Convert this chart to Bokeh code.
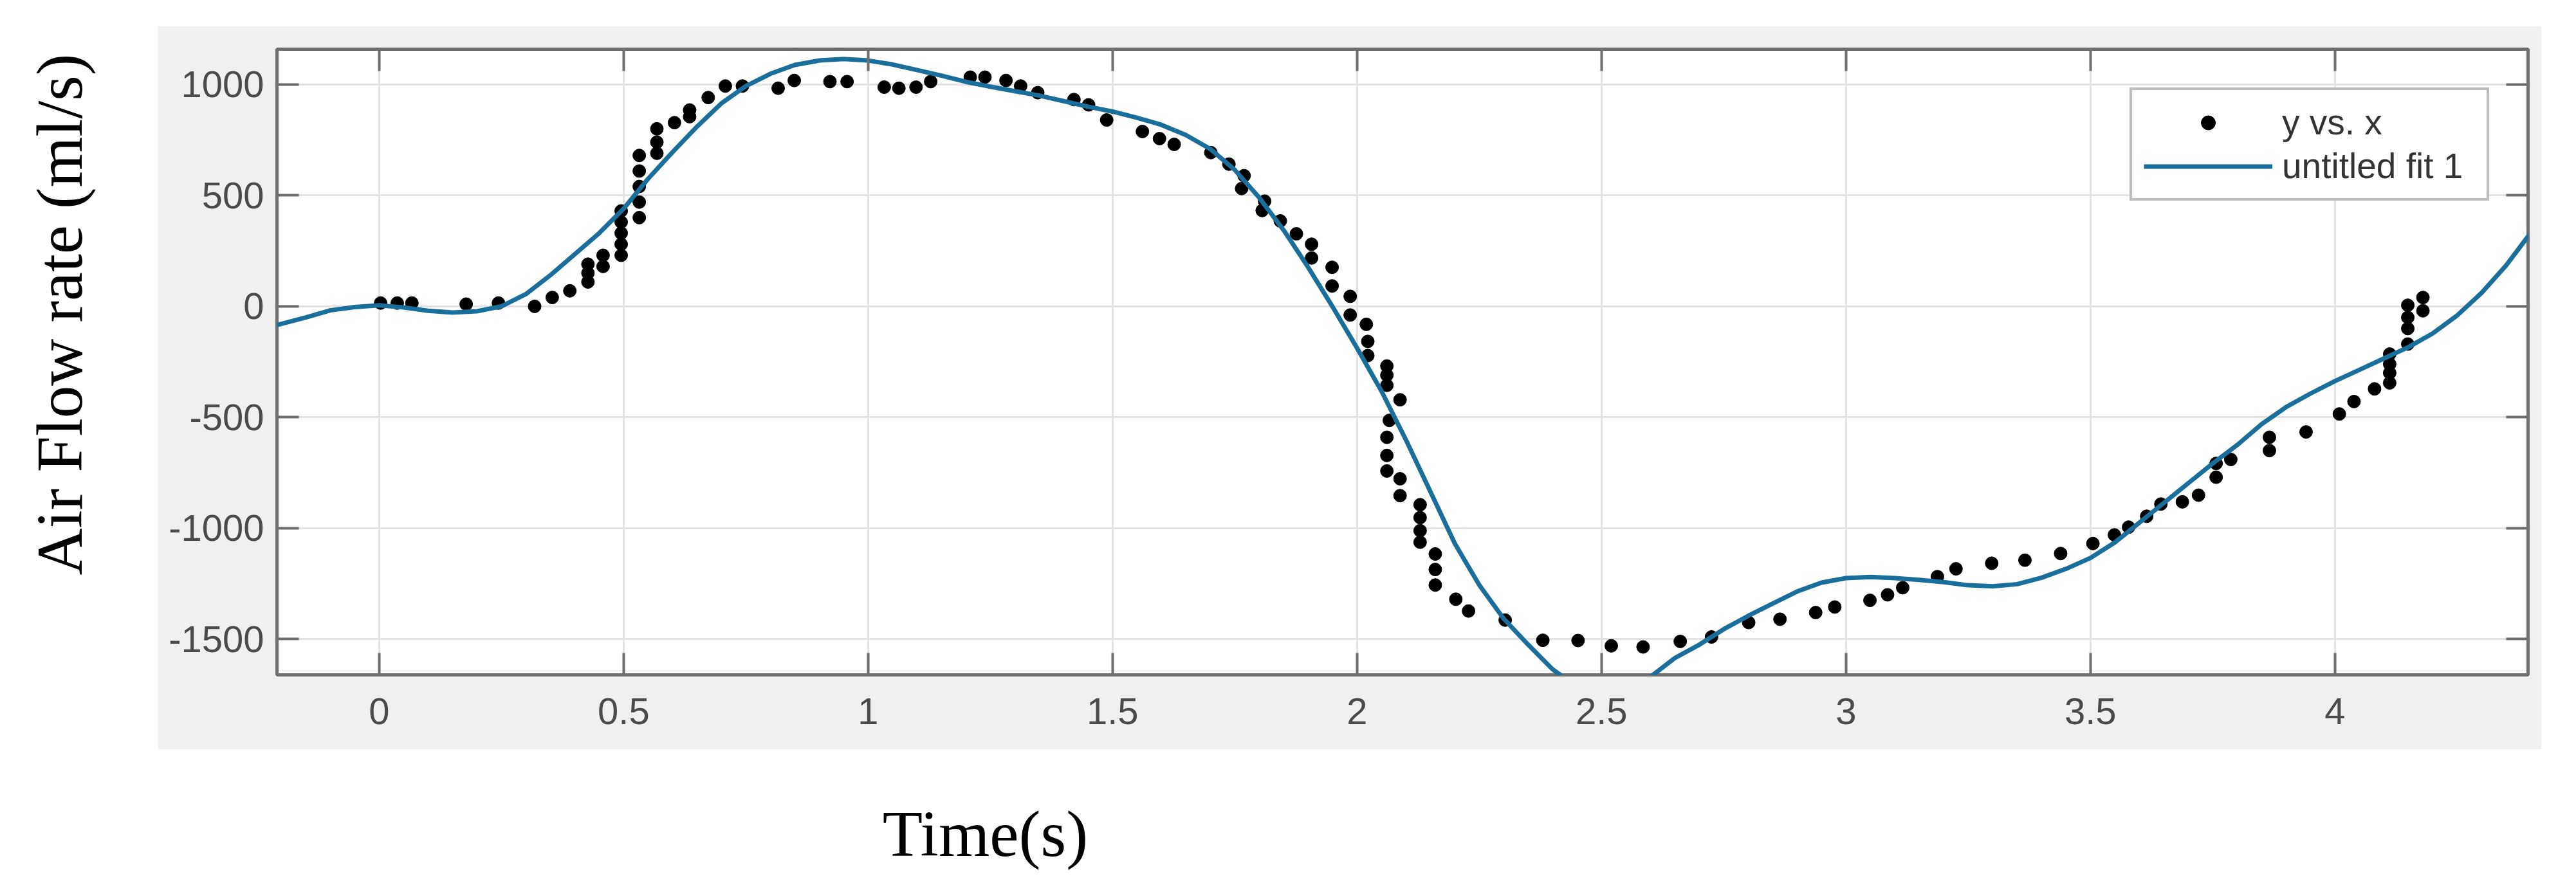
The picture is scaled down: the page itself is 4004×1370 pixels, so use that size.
import numpy as np
from bokeh.plotting import figure
from bokeh.models import Range1d, FixedTicker, LinearAxis, Legend, LegendItem, Spacer
from bokeh.layouts import column, row
from bokeh.core.properties import value
from bokeh.embed import file_html
from bokeh.resources import INLINE

# ---------------- data ----------------
data_x = [0.003, 0.037, 0.067, 0.178, 0.244, 0.318, 0.354, 0.390,
          0.427, 0.427, 0.427, 0.458, 0.458,
          0.495, 0.495, 0.495, 0.495, 0.495,
          0.532, 0.532, 0.532, 0.532, 0.532,
          0.568, 0.568, 0.568, 0.604, 0.635, 0.635, 0.673,
          0.708, 0.743, 0.816, 0.849, 0.922, 0.957, 1.033, 1.063, 1.098, 1.128,
          1.209, 1.239, 1.282, 1.312, 1.347, 1.421, 1.451, 1.488,
          1.561, 1.596, 1.626, 1.701, 1.738, 1.769, 1.764, 1.811, 1.806,
          1.843, 1.876, 1.907, 1.907, 1.949, 1.949, 1.986, 1.986,
          2.019, 2.022, 2.022, 2.061, 2.061, 2.061, 2.088,
          2.066, 2.061, 2.061, 2.061, 2.088, 2.088,
          2.129, 2.129, 2.129, 2.129, 2.160, 2.160, 2.160,
          2.202, 2.228, 2.303, 2.380, 2.452, 2.520, 2.585, 2.661, 2.725,
          2.801, 2.865, 2.938, 2.977, 3.049, 3.085, 3.116,
          3.187, 3.225, 3.298, 3.366, 3.439, 3.505, 3.549, 3.578, 3.615,
          3.644, 3.688, 3.721, 3.757, 3.757, 3.787,
          3.866, 3.866, 3.941, 4.009, 4.039, 4.081,
          4.112, 4.112, 4.112, 4.112, 4.149, 4.149, 4.149, 4.149,
          4.180, 4.180]
data_y = [15, 15, 15, 10, 15, 0, 40, 70,
          110, 150, 190, 180, 230,
          230, 280, 330, 380, 430,
          400, 470, 540, 610, 680,
          690, 740, 800, 828, 855, 885, 941,
          993, 993, 983, 1018, 1013, 1013, 988, 983, 988, 1013,
          1033, 1033, 1018, 993, 963, 932, 908, 840,
          788, 756, 730, 693, 641, 589, 531, 474, 432,
          385, 327, 280, 218, 176, 92, 45, -39,
          -81, -158, -222, -269, -310, -356, -421,
          -514, -590, -672, -742, -777, -853,
          -894, -952, -1011, -1063, -1116, -1186, -1256,
          -1320, -1373, -1414, -1505, -1506, -1530, -1535, -1510, -1490,
          -1425, -1410, -1380, -1355, -1325, -1300, -1268,
          -1218, -1183, -1158, -1144, -1114, -1069, -1030, -995, -946,
          -891, -881, -851, -770, -708, -690,
          -590, -650, -566, -485, -429, -372,
          -215, -260, -300, -345, 5, -50, -100, -170,
          40, -20]

fit_x = [-0.21, -0.15, -0.1, -0.05, 0.0, 0.05, 0.1, 0.15, 0.2, 0.25, 0.3, 0.35,
         0.4, 0.45, 0.5, 0.55, 0.6, 0.65, 0.7, 0.75, 0.8, 0.85, 0.9, 0.95,
         1.0, 1.05, 1.1, 1.15, 1.2, 1.25, 1.3, 1.35, 1.4, 1.45, 1.5, 1.55,
         1.6, 1.65, 1.7, 1.75, 1.8, 1.85, 1.9, 1.95, 2.0, 2.05, 2.1, 2.15,
         2.2, 2.25, 2.3, 2.35, 2.4, 2.45, 2.5, 2.55, 2.6, 2.65, 2.7, 2.75,
         2.8, 2.85, 2.9, 2.95, 3.0, 3.05, 3.1, 3.15, 3.2, 3.25, 3.3, 3.35,
         3.4, 3.45, 3.5, 3.55, 3.6, 3.65, 3.7, 3.75, 3.8, 3.85, 3.9, 3.95,
         4.0, 4.05, 4.1, 4.15, 4.2, 4.25, 4.3, 4.35, 4.4]
fit_y = [-85, -50, -18, -3, 5, -5, -20, -28, -22, 0, 55, 140,
         235, 330, 440, 575, 695, 810, 915, 993, 1048, 1088, 1108, 1115,
         1108, 1090, 1065, 1040, 1012, 990, 970, 950, 925, 900, 878, 850,
         818, 772, 709, 615, 490, 343, 176, -2, -188, -382, -602, -835,
         -1069, -1256, -1408, -1525, -1636, -1715, -1750, -1735, -1670, -1585, -1525, -1455,
         -1395, -1340, -1285, -1245, -1225, -1220, -1225, -1233, -1243, -1257, -1262, -1252,
         -1223, -1183, -1134, -1064, -975, -886, -797, -708, -625, -531, -454, -393,
         -337, -286, -235, -184, -122, -41, 61, 184, 330]

x_ticks = [0, 0.5, 1, 1.5, 2, 2.5, 3, 3.5, 4]
x_tick_labels = ["0", "0.5", "1", "1.5", "2", "2.5", "3", "3.5", "4"]
y_ticks = [-1500, -1000, -500, 0, 500, 1000]
y_tick_labels = ["-1500", "-1000", "-500", "0", "500", "1000"]
x_label = "Time(s)"
y_label = "Air Flow rate (ml/s)"
series_names = ["y vs. x", "untitled fit 1"]

# ---------------- styles ----------------
AX = "#6e6e6e"
TICK_TXT = "#4a4a4a"
SANS = "Liberation Sans"
SERIF = "Liberation Serif"

# ---------------- main plot ----------------
p = figure(width=3705, height=1125,
           x_range=Range1d(-0.209, 4.395), y_range=Range1d(-1661, 1159),
           output_backend="svg", toolbar_location=None)
p.min_border_left = 185
p.min_border_right = 21
p.min_border_top = 36
p.min_border_bottom = 116
p.border_fill_color = "#f0f0f0"
p.background_fill_color = "white"
p.outline_line_color = AX
p.outline_line_width = 5

bottom = p.below[0]
left = p.left[0]
top = LinearAxis()
right = LinearAxis()
p.add_layout(top, "above")
p.add_layout(right, "right")

for ax, ticks, labels in [(bottom, x_ticks, x_tick_labels),
                          (top, x_ticks, x_tick_labels),
                          (left, y_ticks, y_tick_labels),
                          (right, y_ticks, y_tick_labels)]:
    ax.ticker = FixedTicker(ticks=ticks)
    ax.axis_line_color = None
    ax.major_tick_in = 34
    ax.major_tick_out = 0
    ax.major_tick_line_color = AX
    ax.major_tick_line_width = 4
    ax.minor_tick_line_color = None
    ax.major_label_overrides = {t: l for t, l in zip(ticks, labels)}
    ax.major_label_text_font = SANS
    ax.major_label_text_font_size = "58px"
    ax.major_label_text_color = TICK_TXT

bottom.major_label_standoff = 36
left.major_label_standoff = 20
for ax in (top, right):
    ax.major_label_text_font_size = "1px"
    ax.major_label_text_color = None
    ax.major_label_standoff = 0

p.xgrid.grid_line_color = "#e2e2e2"
p.ygrid.grid_line_color = "#e2e2e2"
p.xgrid.grid_line_width = 3
p.ygrid.grid_line_width = 3

sc = p.scatter(data_x, data_y, marker="circle", size=20, color="black")
ln = p.line(fit_x, fit_y, line_color="#1a6e9c", line_width=7)

legend = Legend(items=[LegendItem(label=series_names[0], renderers=[sc]),
                       LegendItem(label=series_names[1], renderers=[ln])],
                location="top_right", margin=60, padding=18, spacing=4,
                glyph_width=200, glyph_height=55, label_height=55, label_width=300,
                label_standoff=15, label_text_font=SANS,
                label_text_font_size="55px", label_text_color="#333333",
                border_line_color="#7a7a7a", border_line_width=4,
                background_fill_color="white", background_fill_alpha=1.0)
p.add_layout(legend)

# ---------------- label panels ----------------
yl = figure(width=245, height=1125, x_range=Range1d(0, 245), y_range=Range1d(0, 1125),
            output_backend="svg", toolbar_location=None,
            x_axis_location=None, y_axis_location=None, min_border=0)
yl.grid.visible = False
yl.outline_line_color = None
yl.border_fill_color = "white"
yl.background_fill_color = "white"
yl.text(x=[92], y=[648], text=[y_label], angle=np.pi / 2,
        text_align="center", text_baseline="middle",
        text_font=value(SERIF), text_font_size="101px", text_color="black")

xl = figure(width=3950, height=197, x_range=Range1d(0, 3950), y_range=Range1d(0, 197),
            output_backend="svg", toolbar_location=None,
            x_axis_location=None, y_axis_location=None, min_border=0)
xl.grid.visible = False
xl.outline_line_color = None
xl.border_fill_color = "white"
xl.background_fill_color = "white"
xl.text(x=[1531], y=[66], text=[x_label],
        text_align="center", text_baseline="alphabetic",
        text_font=value(SERIF), text_font_size="102px", text_color="black")

layout = column(Spacer(width=3950, height=40), row(yl, p), xl)

open("out.html", "w").write(file_html(layout, INLINE))
